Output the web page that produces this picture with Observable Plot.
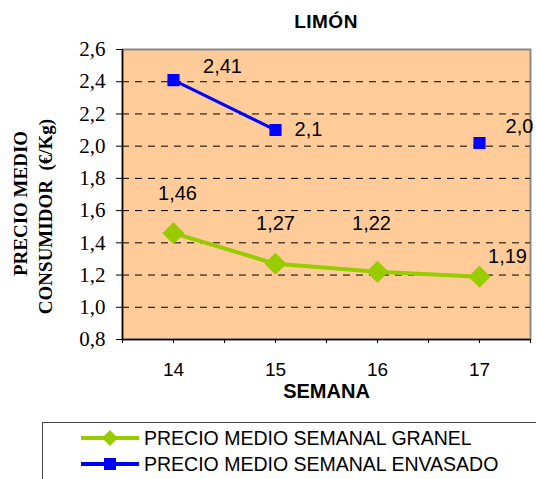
<!DOCTYPE html>
<html>
<head>
<meta charset="utf-8">
<script src="https://cdn.jsdelivr.net/npm/d3@7"></script>
<script src="https://cdn.jsdelivr.net/npm/@observablehq/plot@0.6"></script>
<style>
  html, body { margin: 0; padding: 0; background: #fff; }
  body { width: 536px; height: 479px; position: relative; overflow: hidden; font-family: "Liberation Sans", Arial, sans-serif; }
  #title { position: absolute; top: 12px; left: 122px; width: 408px; text-align: center; font: bold 19px/19px "Liberation Sans", Arial, sans-serif; letter-spacing: 0.5px; color: #000; }
  #chart { position: absolute; top: 30px; left: 0; }
  #legend { position: absolute; top: 422px; left: 42px; width: 520px; height: 70px; border-top: 1px solid #444; border-left: 1px solid #444; }
  .item { position: absolute; left: 38px; height: 20px; display: flex; align-items: center; font: 19.5px "Liberation Sans", Arial, sans-serif; color: #000; letter-spacing: 0px; white-space: nowrap; }
  .item svg { margin-right: 5px; }
</style>
</head>
<body>
<div id="title">LIMÓN</div>
<div id="chart"></div>
<div id="legend"></div>
<script>
// ---- data ----
const semanas = [14, 15, 16, 17];
const granel = [1.46, 1.27, 1.22, 1.19];
const envasado = [2.41, 2.10, null, 2.02];
const granelLabels = ["1,46", "1,27", "1,22", "1,19"];
const envasadoLabels = ["2,41", "2,1", null, "2,0"];
const yTicks = [0.8, 1.0, 1.2, 1.4, 1.6, 1.8, 2.0, 2.2, 2.4, 2.6];
const seriesNames = ["PRECIO MEDIO SEMANAL GRANEL", "PRECIO MEDIO SEMANAL ENVASADO"];
const yTitle = ["PRECIO MEDIO", "CONSUMIDOR  (€/Kg)"];
const xTitle = "SEMANA";

const GREEN = "#99CC00", BLUE = "#0000FF";

const gData = semanas.map((s, i) => ({s, v: granel[i], t: granelLabels[i]}));
const bData = semanas.map((s, i) => ({s, v: envasado[i], t: envasadoLabels[i]}));

const xMin = semanas[0] - 0.5, xMax = semanas[semanas.length - 1] + 0.5;
const xTickMarks = d3.range(xMin, xMax + 0.01, 0.5);
const fmt = d => d.toFixed(1).replace(".", ",");

// label offsets (styling)
const gOff = [[4, -40], [0, -40], [-6, -48], [28, -20]];
const bOff = [[49, -14], [33, 0], null, [40, -16]];

const labelMarks = [];
gData.forEach((d, i) => {
  labelMarks.push(Plot.text([d], {x: "s", y: "v", text: "t", dx: gOff[i][0], dy: gOff[i][1], fontSize: 20, fill: "#000"}));
});
bData.forEach((d, i) => {
  if (d.v == null) return;
  labelMarks.push(Plot.text([d], {x: "s", y: "v", text: "t", dx: bOff[i][0], dy: bOff[i][1], fontSize: 20, fill: "#000"}));
});

const serif = "'Liberation Serif', 'Times New Roman', serif";

const chart = Plot.plot({
  width: 536,
  height: 380,
  marginTop: 19,
  marginBottom: 71,
  marginLeft: 122,
  marginRight: 6,
  style: {fontFamily: "'Liberation Sans', Arial, sans-serif", background: "transparent", overflow: "visible"},
  x: {type: "linear", domain: [xMin, xMax]},
  y: {domain: [yTicks[0], yTicks[yTicks.length - 1]]},
  marks: [
    Plot.frame({fill: "#FFCC99", stroke: "#8a8a8a", strokeWidth: 2}),
    Plot.gridY(yTicks.slice(1, -1), {stroke: "#000", strokeOpacity: 1, strokeWidth: 1, strokeDasharray: "7,6"}),
    Plot.ruleX([xMin], {stroke: "#000", strokeWidth: 1.5}),
    Plot.ruleY([yTicks[0]], {stroke: "#000", strokeWidth: 1.5}),
    Plot.axisY({ticks: yTicks, tickFormat: fmt, tickSize: 6, tickPadding: 11, fontSize: 21, fontFamily: serif, label: null, stroke: "#000", fill: "#000"}),
    Plot.axisX({ticks: xTickMarks, tickFormat: d => Number.isInteger(d) ? String(d) : "", tickSize: 4, tickPadding: 19, fontSize: 19, label: null, stroke: "#000", fill: "#000"}),
    Plot.text([xTitle], {frameAnchor: "bottom", dy: 58, fontSize: 20, fontWeight: "bold", fill: "#000", letterSpacing: "-0.5px"}),
    Plot.text([yTitle[0]], {frameAnchor: "left", textAnchor: "middle", dx: -102, dy: 9, rotate: -90, fontSize: 19, fontWeight: "bold", fontFamily: serif, fill: "#000"}),
    Plot.text([yTitle[1]], {frameAnchor: "left", textAnchor: "middle", dx: -77, dy: 22, rotate: -90, fontSize: 19, fontWeight: "bold", fontFamily: serif, fill: "#000"}),
    Plot.line(gData, {x: "s", y: "v", stroke: GREEN, strokeWidth: 4}),
    Plot.dot(gData, {x: "s", y: "v", symbol: "diamond2", r: 9, fill: GREEN, stroke: GREEN}),
    Plot.line(bData, {x: "s", y: "v", stroke: BLUE, strokeWidth: 3}),
    Plot.dot(bData.filter(d => d.v != null), {x: "s", y: "v", symbol: "square", r: 6, fill: BLUE, stroke: BLUE}),
    ...labelMarks
  ]
});
document.getElementById("chart").appendChild(chart);

// legend
const legend = document.getElementById("legend");
const legendDefs = [
  {name: seriesNames[0], color: GREEN, symbol: "diamond"},
  {name: seriesNames[1], color: BLUE, symbol: "square"}
];
legendDefs.forEach((d, i) => {
  const div = document.createElement("div");
  div.className = "item";
  div.style.top = (5 + i * 26) + "px";
  const marker = d.symbol === "diamond"
    ? `<polygon points="29,2 37,10 29,18 21,10" fill="${d.color}"/>`
    : `<rect x="23" y="4" width="12" height="12" fill="${d.color}"/>`;
  div.innerHTML = `<svg width="58" height="20"><line x1="0" y1="10" x2="58" y2="10" stroke="${d.color}" stroke-width="4"/>${marker}</svg><span>${d.name}</span>`;
  legend.appendChild(div);
});
</script>
</body>
</html>
